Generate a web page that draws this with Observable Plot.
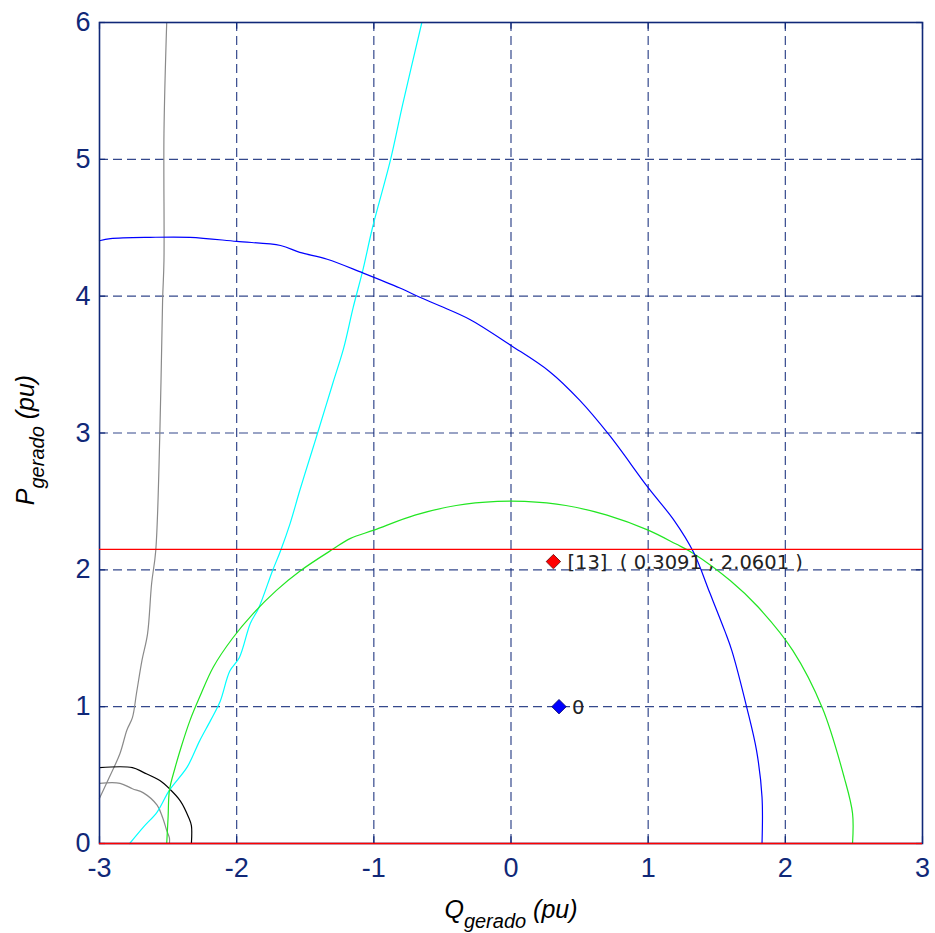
<!DOCTYPE html>
<html>
<head>
<meta charset="utf-8">
<script src="https://cdn.jsdelivr.net/npm/d3@7"></script>
<script src="https://cdn.jsdelivr.net/npm/@observablehq/plot@0.6"></script>
<style>
  html, body { margin: 0; padding: 0; background: #fff; }
</style>
</head>
<body>
<div id="chart"></div>
<script>
// ---- data ----
const xTicks = [-3, -2, -1, 0, 1, 2, 3];
const yTicks = [0, 1, 2, 3, 4, 5, 6];

const blueQ = [-3, -2.92, -2.63, -2.34, -2.0, -1.68, -1.54, -1.34, -1.08, -0.81, -0.66, -0.52, -0.30, 0, 0.28, 0.50, 0.72, 1.0, 1.19, 1.33, 1.45, 1.56, 1.61, 1.72, 1.79, 1.83, 1.83];
const blueP = [4.405, 4.42, 4.43, 4.43, 4.40, 4.37, 4.32, 4.27, 4.17, 4.06, 3.99, 3.93, 3.83, 3.64, 3.45, 3.24, 2.98, 2.60, 2.36, 2.13, 1.83, 1.55, 1.41, 0.99, 0.68, 0.34, 0];

const greenQ = [-2.51, -2.50, -2.49, -2.45, -2.40, -2.34, -2.27, -2.17, -2.03, -1.88, -1.71, -1.54, -1.30, -1.17, -1.0, -0.7, -0.4, -0.1, 0.1, 0.4, 0.7, 1.0, 1.2, 1.33, 1.6, 1.8, 2.055, 2.27, 2.43, 2.49, 2.49];
const greenP = [0, 0.19, 0.39, 0.55, 0.72, 0.90, 1.07, 1.29, 1.50, 1.68, 1.85, 1.99, 2.15, 2.23, 2.29, 2.40, 2.47, 2.50, 2.50, 2.47, 2.40, 2.29, 2.19, 2.12, 1.92, 1.73, 1.41, 0.99, 0.48, 0.22, 0];

const cyanQ = [-2.78, -2.68, -2.58, -2.49, -2.36, -2.27, -2.19, -2.12, -2.05, -1.98, -1.90, -1.84, -1.74, -1.68, -1.61, -1.54, -1.45, -1.41, -1.30, -1.22, -1.15, -1.08, -1.01, -0.88, -0.79, -0.65];
const cyanP = [0, 0.12, 0.23, 0.39, 0.56, 0.75, 0.90, 1.04, 1.26, 1.36, 1.61, 1.72, 1.99, 2.14, 2.34, 2.58, 2.87, 3.0, 3.36, 3.62, 3.92, 4.19, 4.50, 4.99, 5.40, 6.0];

const grayLineQ = [-3.0, -2.93, -2.85, -2.80, -2.76, -2.73, -2.69, -2.65, -2.62, -2.59, -2.56, -2.54, -2.53, -2.53, -2.51];
const grayLineP = [0.33, 0.48, 0.66, 0.83, 0.92, 1.10, 1.34, 1.53, 1.90, 2.14, 3.0, 3.97, 4.26, 5.19, 6.0];

const blackArcQ = [-3, -2.76, -2.68, -2.56, -2.49, -2.41, -2.35, -2.33, -2.33];
const blackArcP = [0.555, 0.555, 0.52, 0.46, 0.40, 0.31, 0.19, 0.13, 0];

const grayArcQ = [-3, -2.85, -2.76, -2.68, -2.58, -2.54, -2.51, -2.49, -2.49];
const grayArcP = [0.44, 0.44, 0.40, 0.37, 0.28, 0.19, 0.095, 0.04, 0];

const redLevels = [0, 2.15];

const opPoint = {q: 0.3091, p: 2.0601, label: "[13]  ( 0.3091 ; 2.0601 )"};
const refPoint = {q: 0.35, p: 1.0, label: "0"};

// ---- build series ----
const series = [
  {name: "grayLine", Q: grayLineQ, P: grayLineP, color: "#8a8a8a"},
  {name: "grayArc", Q: grayArcQ, P: grayArcP, color: "#8a8a8a"},
  {name: "blackArc", Q: blackArcQ, P: blackArcP, color: "#000000"},
  {name: "cyan", Q: cyanQ, P: cyanP, color: "#00ffff"},
  {name: "green", Q: greenQ, P: greenP, color: "#22e622"},
  {name: "blue", Q: blueQ, P: blueP, color: "#0000ff"}
];

const navy = "#102878";
const W = 935, H = 933;

const marks = [
  Plot.gridX(xTicks.slice(1, -1), {stroke: navy, strokeOpacity: 0.85, strokeWidth: 1.2, strokeDasharray: "9,5"}),
  Plot.gridY(yTicks.slice(1, -1), {stroke: navy, strokeOpacity: 0.85, strokeWidth: 1.2, strokeDasharray: "9,5"}),
  // inner tick marks
  Plot.ruleX(xTicks, {y1: 0, y2: 0.05, stroke: navy, strokeWidth: 1.2}),
  Plot.ruleX(xTicks, {y1: 6, y2: 5.95, stroke: navy, strokeWidth: 1.2}),
  Plot.ruleY(yTicks, {x1: -3, x2: -2.955, stroke: navy, strokeWidth: 1.2}),
  Plot.ruleY(yTicks, {x1: 3, x2: 2.955, stroke: navy, strokeWidth: 1.2}),
  ...series.map(s => Plot.line(s.Q.map((q, i) => ({q, p: s.P[i]})), {x: "q", y: "p", stroke: s.color, strokeWidth: 1.2, curve: "catmull-rom"})),
  Plot.frame({stroke: navy, strokeWidth: 1.6}),
  Plot.ruleY(redLevels, {stroke: "#ff0000", strokeWidth: 1.3}),
  Plot.dot([opPoint], {x: "q", y: "p", symbol: "diamond2", r: 6.5, fill: "#ff0000", stroke: "#600000", strokeWidth: 0.8}),
  Plot.dot([refPoint], {x: "q", y: "p", symbol: "diamond2", r: 6.5, fill: "#0000ff", stroke: "#000060", strokeWidth: 0.8}),
  Plot.text([opPoint], {x: "q", y: "p", text: "label", textAnchor: "start", dx: 14, dy: 1, fontSize: 19.5, fill: "#222", fontFamily: "DejaVu Sans", fontWeight: "normal"}),
  Plot.text([refPoint], {x: "q", y: "p", text: "label", textAnchor: "start", dx: 13, dy: 1, fontSize: 19.5, fill: "#222", fontFamily: "DejaVu Sans"}),
  Plot.axisX(xTicks, {tickSize: 0, tickPadding: 14, tickFormat: d => String(d), fontSize: 27, label: null}),
  Plot.axisY(yTicks, {tickSize: 0, tickPadding: 9, tickFormat: d => String(d), fontSize: 27, label: null})
];

const svg = Plot.plot({
  width: W,
  height: H,
  marginLeft: 99,
  marginRight: 13,
  marginTop: 22,
  marginBottom: 90,
  x: {domain: [-3, 3]},
  y: {domain: [0, 6]},
  style: {color: navy, fontFamily: "Liberation Sans, Arial, sans-serif", background: "#fff"},
  marks
});

// axis titles with subscripts
const s = d3.select(svg);
const xl = s.append("text")
  .attr("x", 511).attr("y", 918)
  .attr("text-anchor", "middle")
  .attr("font-family", "Liberation Sans, Arial, sans-serif")
  .attr("font-style", "italic")
  .attr("font-size", 25)
  .attr("fill", "#000");
xl.append("tspan").text("Q");
xl.append("tspan").attr("dy", 10).attr("font-size", 20).text("gerado");
xl.append("tspan").attr("dy", -10).text(" (pu)");

const yl = s.append("text")
  .attr("transform", "translate(34,440) rotate(-90)")
  .attr("text-anchor", "middle")
  .attr("font-family", "Liberation Sans, Arial, sans-serif")
  .attr("font-style", "italic")
  .attr("font-size", 25)
  .attr("fill", "#000");
yl.append("tspan").text("P");
yl.append("tspan").attr("dy", 10).attr("font-size", 20).text("gerado");
yl.append("tspan").attr("dy", -10).text(" (pu)");

document.getElementById("chart").appendChild(svg);
</script>
</body>
</html>
